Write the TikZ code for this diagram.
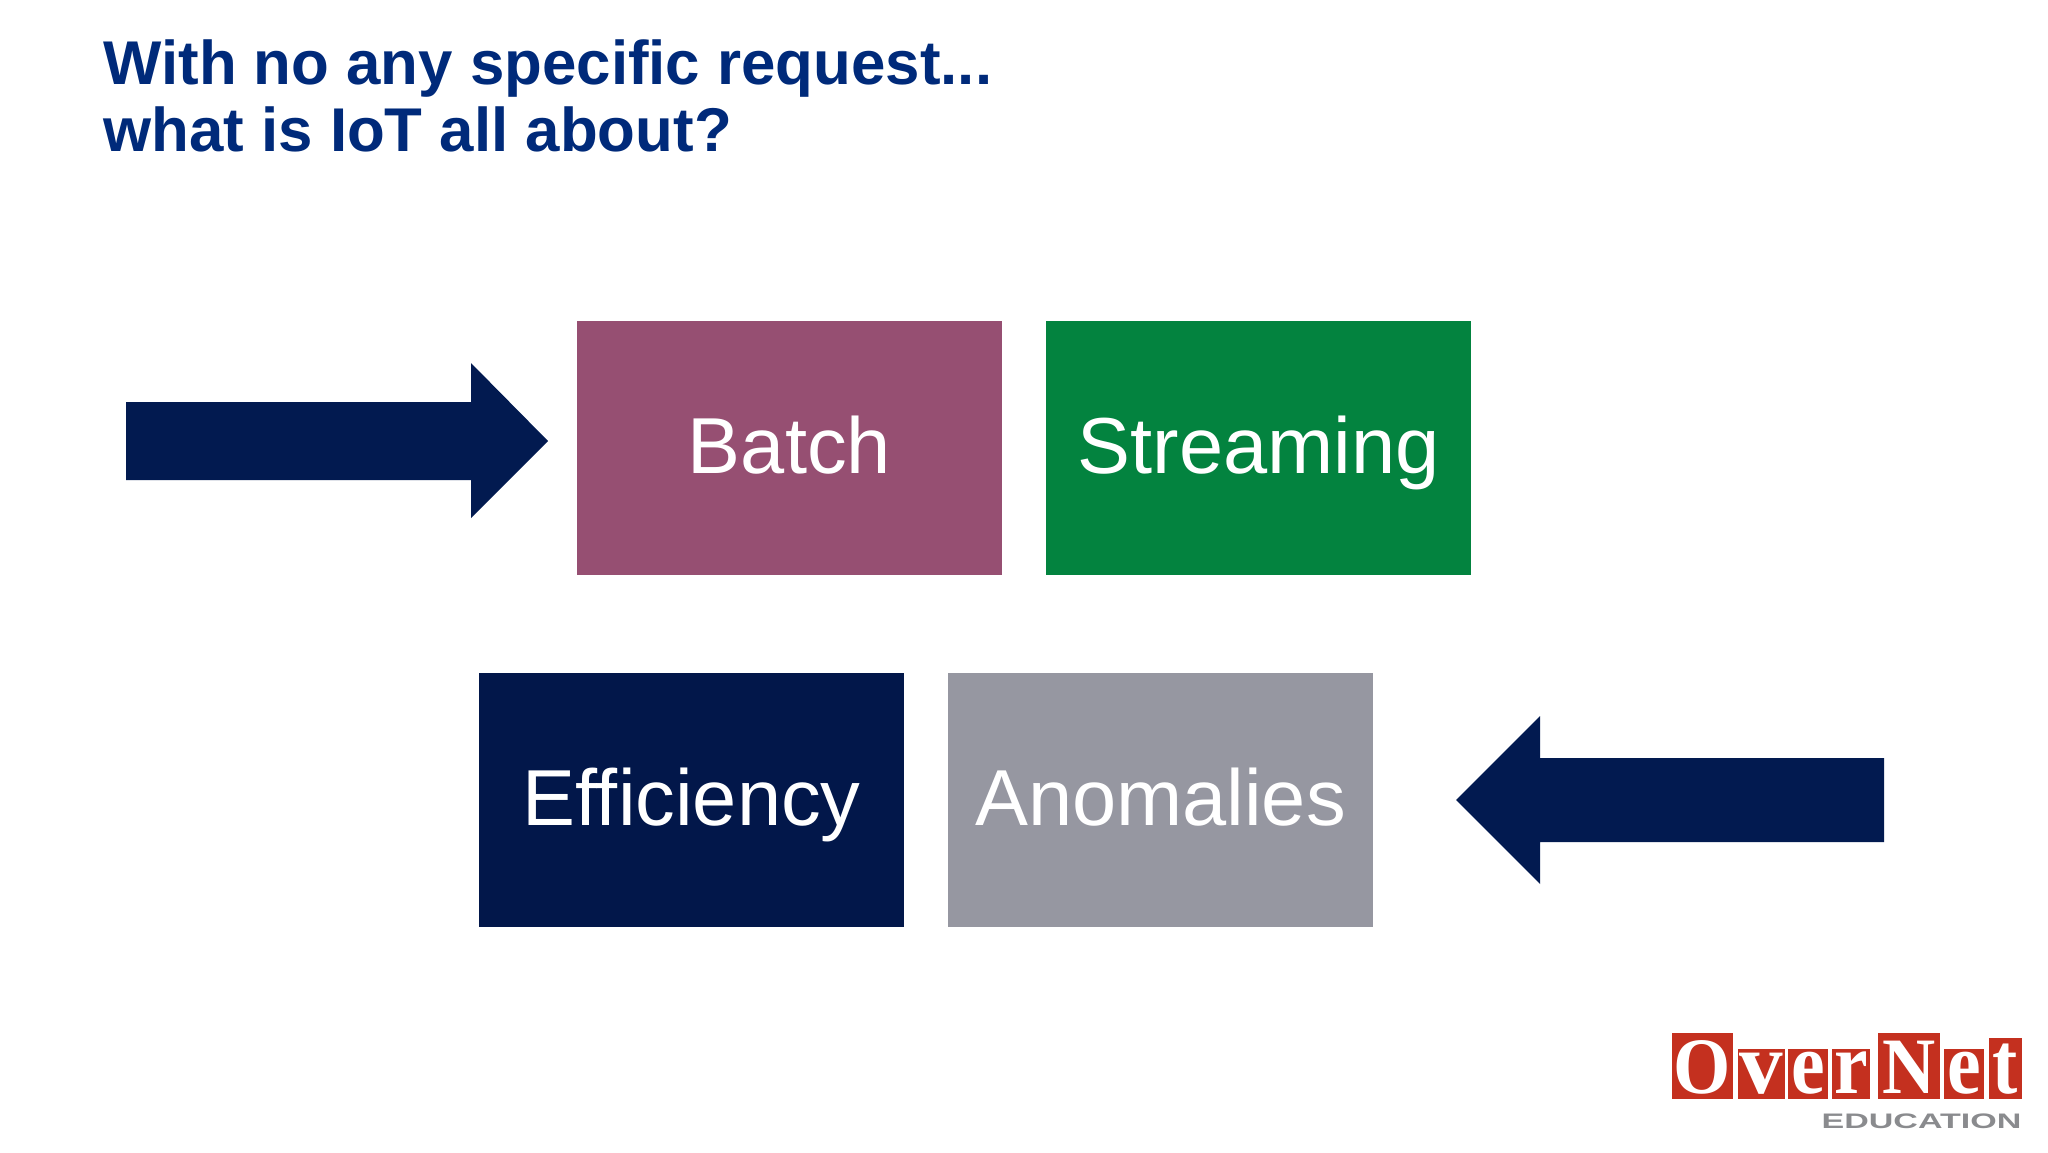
\documentclass[tikz,border=0pt]{standalone}
\usepackage{fontspec}
\setmainfont{Liberation Sans}
\newfontfamily\logofont{Liberation Serif}
\definecolor{titleblue}{HTML}{002A7A}
\definecolor{batchcol}{HTML}{964F72}
\definecolor{streamcol}{HTML}{03833F}
\definecolor{effcol}{HTML}{02174A}
\definecolor{anomcol}{HTML}{9697A1}
\definecolor{arrowcol}{HTML}{021A50}
\definecolor{logored}{HTML}{C4301F}
\definecolor{logogray}{HTML}{8A8B8E}
\tikzset{
    topicbox/.style={minimum width=212.5pt, minimum height=127pt, inner sep=0pt, text height=34pt, text depth=9pt, text=white, font=\fontsize{39.7}{40}\selectfont},
    titleline/.style={anchor=base west, inner sep=0pt, text=titleblue, font=\fontsize{30.9}{31}\selectfont\bfseries},
    logocap/.style={anchor=base, inner sep=0pt, text=white, xscale=0.92, font=\fontsize{40}{40}\logofont\bfseries},
    logosmall/.style={anchor=base, inner sep=0pt, text=white, xscale=0.86, font=\fontsize{44}{44}\logofont\bfseries},
}
\begin{document}
\begin{tikzpicture}[x=0.5pt,y=-0.5pt]
    \useasboundingbox (0,0) rectangle (2048,1152);
    % title
    \node[titleline] (title1) at (103,84) {With no any specific request...};
    \node[titleline] (title2) at (103,151) {what is IoT all about?};
    % boxes
    \node[topicbox, fill=batchcol] (batch) at (789.5,448) {Batch};
    \node[topicbox, fill=streamcol] (streaming) at (1258.5,448) {Streaming};
    \node[topicbox, fill=effcol] (efficiency) at (691.5,800) {Efficiency};
    \node[topicbox, fill=anomcol] (anomalies) at (1160.5,800) {Anomalies};
    % block arrows
    \fill[arrowcol] (126,402)--(471,402)--(471,363)--(548,441)--(471,518)--(471,480)--(126,480)--cycle;
    \fill[arrowcol] (1884,758)--(1540,758)--(1540,716)--(1456,800)--(1540,884)--(1540,842)--(1884,842)--cycle;
    % logo
    \fill[logored] (1672,1033) rectangle (1733,1099);
    \fill[logored] (1738,1049) rectangle (1785,1099);
    \fill[logored] (1788,1049) rectangle (1828,1099);
    \fill[logored] (1832,1049) rectangle (1870,1099);
    \fill[logored] (1878,1033) rectangle (1940,1099);
    \fill[logored] (1944,1049) rectangle (1984,1099);
    \fill[logored] (1989,1038) rectangle (2022,1099);
    \node[logocap] (logoO) at (1702.5,1093) {O};
    \node[logosmall, xscale=1.15] (logov) at (1761.5,1093) {v};
    \node[logosmall] (logoe) at (1808,1093) {e};
    \node[logosmall] (logor) at (1851,1093) {r};
    \node[logocap] (logoN) at (1909,1093) {N};
    \node[logosmall] (logoe2) at (1964,1093) {e};
    \node[logosmall] (logot) at (2005.5,1093) {t};
    \node[anchor=base east, inner sep=0pt, text=logogray, xscale=1.62, font=\fontsize{10.5}{10.5}\selectfont\bfseries] (logoedu) at (2022,1128) {EDUCATION};
\end{tikzpicture}
\end{document}
